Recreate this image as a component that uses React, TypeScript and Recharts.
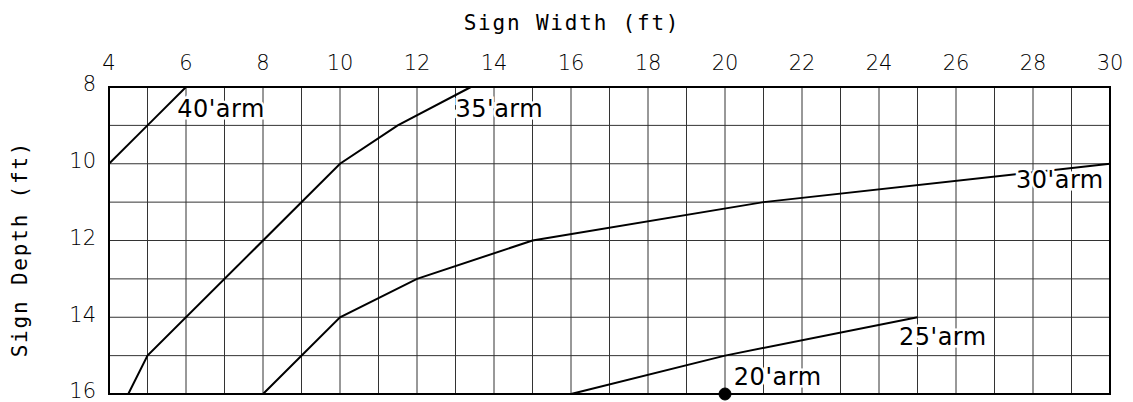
import { LineChart, Line, XAxis, YAxis, CartesianGrid, ReferenceArea, ReferenceDot } from "recharts"

// sign width (ft) vs sign depth (ft), one curve per mast arm length
const xTicks = [4, 5, 6, 7, 8, 9, 10, 11, 12, 13, 14, 15, 16, 17, 18, 19, 20, 21, 22, 23, 24, 25, 26, 27, 28, 29, 30]
const yTicks = [8, 9, 10, 11, 12, 13, 14, 15, 16]

const arm40 = [
  { w: 4, d: 10 },
  { w: 5, d: 9 },
  { w: 6, d: 8 },
]
const arm35 = [
  { w: 4.5, d: 16 },
  { w: 5, d: 15 },
  { w: 10, d: 10 },
  { w: 11.5, d: 9 },
  { w: 13.4, d: 8 },
]
const arm30 = [
  { w: 8, d: 16 },
  { w: 10, d: 14 },
  { w: 12, d: 13 },
  { w: 15, d: 12 },
  { w: 21, d: 11 },
  { w: 30, d: 10 },
]
const arm25 = [
  { w: 16, d: 16 },
  { w: 20, d: 15 },
  { w: 25, d: 14 },
]
const arm20 = [{ w: 20, d: 16 }]

// where each label starts (left edge / baseline), in chart units
const armLabels = [
  { text: "40'arm", w: 5.77, d: 8.78 },
  { text: "35'arm", w: 13.0, d: 8.78 },
  { text: "30'arm", w: 27.56, d: 10.63 },
  { text: "25'arm", w: 24.52, d: 14.72 },
  { text: "20'arm", w: 20.23, d: 15.76 },
]

const evenOnly = (v: number) => (v % 2 === 0 ? String(v) : "")

const tickStyle = { fontSize: 21, fill: "#000", fontFamily: "DejaVu Sans", fontWeight: 200 }

function armLabel(text: string) {
  return (props: any) => {
    const vb = props.viewBox || {}
    return (
      <text
        x={vb.x}
        y={vb.y}
        fontSize={24}
        fontFamily="DejaVu Sans"
        letterSpacing={0.5}
        fill="#000"
        stroke="#fff"
        strokeWidth={5}
        paintOrder="stroke"
        textAnchor="start"
      >
        {text}
      </text>
    )
  }
}

export default function App() {
  return (
    <div style={{ position: "absolute", left: 0, top: 0, background: "#fff" }}>
      <LineChart width={1133} height={402} margin={{ top: 47, right: 23, bottom: 8, left: 49 }}>
        <CartesianGrid stroke="#333" strokeWidth={1} />
        <XAxis
          dataKey="w"
          type="number"
          orientation="top"
          domain={[4, 30]}
          ticks={xTicks}
          tickFormatter={evenOnly}
          interval={0}
          height={40}
          axisLine={false}
          tickLine={false}
          tickMargin={11}
          tick={tickStyle}
        />
        <YAxis
          dataKey="d"
          type="number"
          reversed
          domain={[8, 16]}
          ticks={yTicks}
          tickFormatter={evenOnly}
          interval={0}
          width={60}
          axisLine={false}
          tickLine={false}
          tickMargin={7}
          tick={{ ...tickStyle, dy: -3 }}
        />
        <ReferenceArea x1={4} x2={30} y1={8} y2={16} fill="none" stroke="#000" strokeWidth={2} />
        <Line data={arm40} dataKey="d" stroke="#000" strokeWidth={2} dot={false} isAnimationActive={false} />
        <Line data={arm35} dataKey="d" stroke="#000" strokeWidth={2} dot={false} isAnimationActive={false} />
        <Line data={arm30} dataKey="d" stroke="#000" strokeWidth={2} dot={false} isAnimationActive={false} />
        <Line data={arm25} dataKey="d" stroke="#000" strokeWidth={2} dot={false} isAnimationActive={false} />
        <Line
          data={arm20}
          dataKey="d"
          stroke="#000"
          strokeWidth={2}
          dot={{ r: 6, fill: "#000", stroke: "#000", strokeWidth: 1 }}
          isAnimationActive={false}
        />
        {armLabels.map((l) => (
          <ReferenceDot key={l.text} x={l.w} y={l.d} r={0} ifOverflow="visible" label={armLabel(l.text)} />
        ))}
        <text x={572} y={30} textAnchor="middle" fontSize={21} fontFamily="DejaVu Sans Mono" letterSpacing={1.8} fill="#000">
          Sign Width (ft)
        </text>
        <text
          x={27}
          y={249}
          transform="rotate(-90 27 249)"
          textAnchor="middle"
          fontSize={21}
          fontFamily="DejaVu Sans Mono"
          letterSpacing={1.8}
          fill="#000"
        >
          Sign Depth (ft)
        </text>
      </LineChart>
    </div>
  )
}
